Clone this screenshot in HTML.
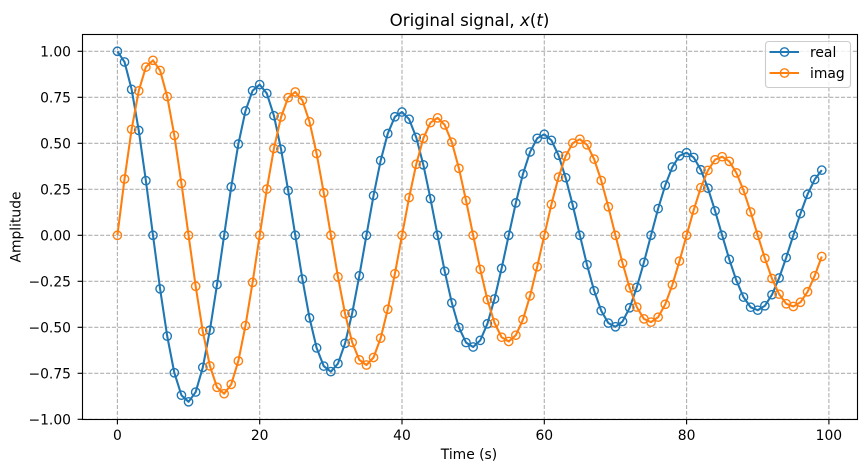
<!DOCTYPE html>
<html>
<head>
<meta charset="utf-8">
<style>
html,body{margin:0;padding:0;background:#fff;}
svg{display:block;font-family:"DejaVu Sans",sans-serif;}
</style>
</head>
<body>
<svg id="chart" width="866" height="472" viewBox="0 0 866 472" xmlns="http://www.w3.org/2000/svg">
  <rect x="0" y="0" width="866" height="472" fill="#ffffff"/>
  <text x="469.5" y="26" font-size="16.67" text-anchor="middle" fill="#000">Original signal, <tspan font-style="italic">x</tspan>(<tspan font-style="italic">t</tspan>)</text>
  <text x="469" y="459" font-size="13.89" text-anchor="middle" fill="#000">Time (s)</text>
  <text transform="translate(20.5 227) rotate(-90)" font-size="13.89" text-anchor="middle" fill="#000">Amplitude</text>
  <g id="grid"></g>
  <g id="series"></g>
  <rect x="82.5" y="34.5" width="775" height="385" fill="none" stroke="#000" stroke-width="1.11"/>
  <g id="ticks"></g>
  <g>
    <rect x="765.5" y="41.5" width="85" height="46" rx="3" fill="#ffffff" fill-opacity="0.8" stroke="#cccccc" stroke-width="1.11"/>
    <g>
      <line x1="769.5" y1="52" x2="799" y2="52" stroke="#1f77b4" stroke-width="2.08"/>
      <circle cx="784.5" cy="52" r="4.17" fill="none" stroke="#1f77b4" stroke-width="1.39"/>
      <text x="810" y="57" font-size="13.89" fill="#000">real</text>
    </g>
    <g>
      <line x1="769.5" y1="73" x2="799" y2="73" stroke="#ff7f0e" stroke-width="2.08"/>
      <circle cx="784.5" cy="73" r="4.17" fill="none" stroke="#ff7f0e" stroke-width="1.39"/>
      <text x="810" y="78" font-size="13.89" fill="#000">imag</text>
    </g>
  </g>
</svg>
<script>
const timeSteps = [0,1,2,3,4,5,6,7,8,9,10,11,12,13,14,15,16,17,18,19,20,21,22,23,24,25,26,27,28,29,30,31,32,33,34,35,36,37,38,39,40,41,42,43,44,45,46,47,48,49,50,51,52,53,54,55,56,57,58,59,60,61,62,63,64,65,66,67,68,69,70,71,72,73,74,75,76,77,78,79,80,81,82,83,84,85,86,87,88,89,90,91,92,93,94,95,96,97,98,99];
const realValues = [1.000,.942,.793,.570,.297,0,-.291,-.548,-.747,-.869,-.905,-.852,-.718,-.516,-.268,0,.263,.496,.676,.786,.819,.771,.650,.468,.243,0,-.238,-.449,-.612,-.711,-.741,-.697,-.587,-.423,-.220,0,.216,.406,.553,.644,.670,.631,.532,.383,.199,0,-.195,-.367,-.501,-.583,-.607,-.571,-.481,-.346,-.180,0,.176,.333,.453,.527,.549,.516,.435,.313,.163,0,-.160,-.301,-.410,-.477,-.497,-.468,-.394,-.283,-.147,0,.145,.272,.371,.432,.449,.423,.356,.256,.133,0,-.131,-.246,-.336,-.391,-.407,-.383,-.323,-.232,-.121,0,.118,.223,.303,.354];
const imagValues = [0,.306,.576,.785,.914,.951,.896,.754,.543,.282,0,-.277,-.522,-.710,-.826,-.861,-.810,-.683,-.491,-.256,0,.251,.472,.643,.748,.779,.733,.617,.444,.231,0,-.226,-.427,-.582,-.677,-.705,-.664,-.559,-.402,-.209,0,.205,.386,.527,.612,.638,.600,.506,.364,.189,0,-.185,-.350,-.476,-.554,-.577,-.543,-.458,-.329,-.171,0,.168,.316,.431,.501,.522,.492,.414,.298,.155,0,-.152,-.286,-.390,-.454,-.472,-.445,-.375,-.269,-.140,0,.138,.259,.353,.411,.427,.402,.339,.244,.127,0,-.125,-.235,-.320,-.372,-.387,-.364,-.307,-.220,-.115];
const xTicks = [0,20,40,60,80,100];
const yTicks = [-1,-0.75,-0.5,-0.25,0,0.25,0.5,0.75,1];
const yTickLabels = ["\u22121.00","\u22120.75","\u22120.50","\u22120.25","0.00","0.25","0.50","0.75","1.00"];

const NS = 'http://www.w3.org/2000/svg';
function xScale(t){ return 117.4 + t * 7.115; }
function yScale(v){ return 235.3 - v * 184; }
function make(tag, attrs, parent){
  const el = document.createElementNS(NS, tag);
  for (const k in attrs) el.setAttribute(k, attrs[k]);
  parent.appendChild(el);
  return el;
}
const gridG = document.getElementById('grid');
const ticksG = document.getElementById('ticks');
const seriesG = document.getElementById('series');
const gridStyle = {stroke:'#b0b0b0','stroke-width':1.11,'stroke-dasharray':'4.1 1.78',fill:'none'};

xTicks.forEach(function(t){
  const x = xScale(t);
  const g = make('line', Object.assign({x1:x,x2:x,y1:34.5,y2:419.5}, gridStyle), gridG);
  
  
  const m = make('line', {x1:x,x2:x,y1:419.5,y2:424.4,stroke:'#000','stroke-width':1.11}, ticksG);
  
  
  const l = make('text', {x:x,y:440,'font-size':13.89,'text-anchor':'middle',fill:'#000'}, ticksG);
  
  
  l.textContent = String(t);
});

yTicks.forEach(function(v, i){
  const y = yScale(v);
  const g = make('line', Object.assign({x1:82.5,x2:857.5,y1:y,y2:y}, gridStyle), gridG);
  
  
  const m = make('line', {x1:77.6,x2:82.5,y1:y,y2:y,stroke:'#000','stroke-width':1.11}, ticksG);
  
  
  const l = make('text', {x:71,y:y+5,'font-size':13.89,'text-anchor':'end',fill:'#000'}, ticksG);
  
  
  l.textContent = yTickLabels[i];
});

function drawSeries(values, color){
  const points = values.map(function(v, i){ return xScale(timeSteps[i]).toFixed(2) + ',' + yScale(v).toFixed(2); }).join(' ');
  const line = make('polyline', {points:points,fill:'none',stroke:color,'stroke-width':2.08,'stroke-linejoin':'round'}, seriesG);
  
  
  values.forEach(function(v, i){
    const c = make('circle', {cx:xScale(timeSteps[i]).toFixed(2),cy:yScale(v).toFixed(2),r:4.17,fill:'none',stroke:color,'stroke-width':1.39}, seriesG);
    
    
  });
}
drawSeries(realValues, '#1f77b4');
drawSeries(imagValues, '#ff7f0e');
</script>
</body>
</html>
